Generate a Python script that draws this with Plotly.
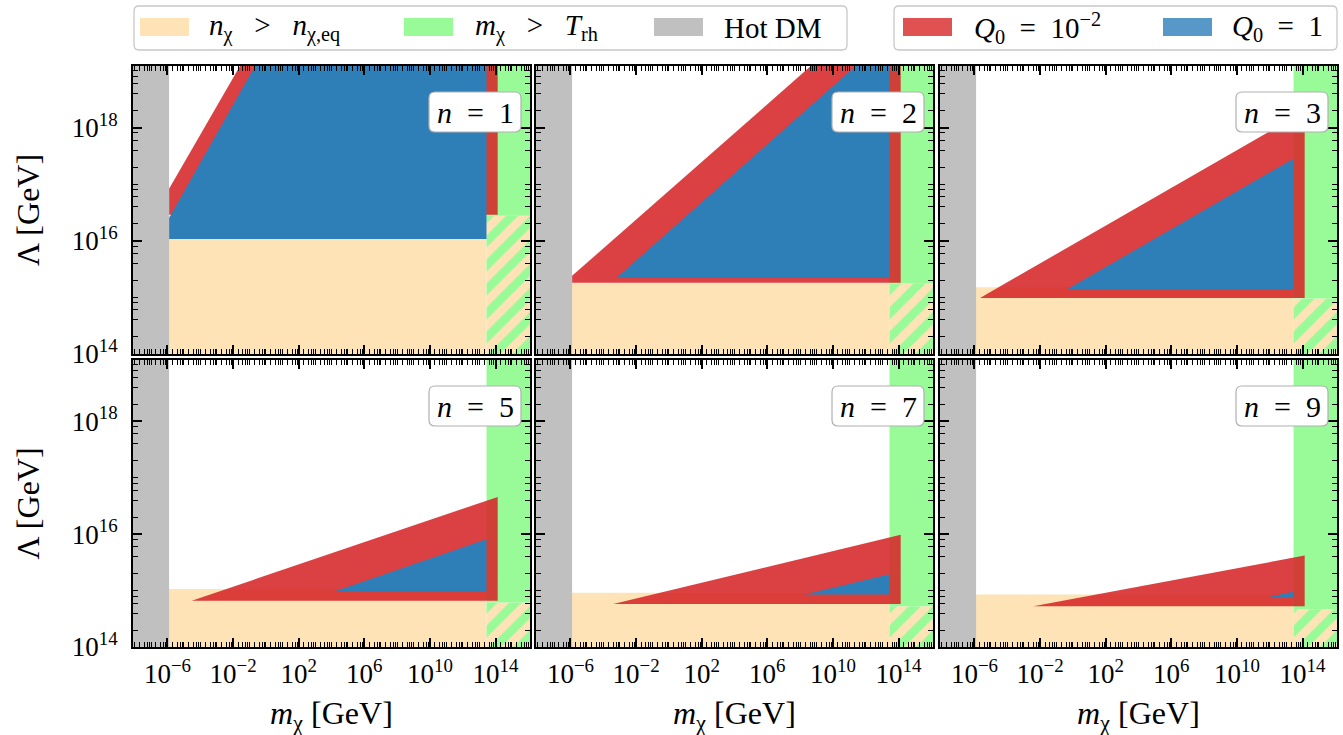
import numpy as np
import plotly.graph_objects as go

W, H = 1343, 735
FONT = "Liberation Serif, DejaVu Serif, serif"

# ---------------- data (log10 of GeV) ----------------
n_values = [1, 2, 3, 5, 7, 9]
hot_dm_log = -5.9          # hot DM bound on m_chi
trh_log = 13.45            # m_chi > T_rh boundary
orange_top_log = [16.44, 15.26, 15.18, 15.03, 14.96, 14.93]
hatch_top_log = [16.44, 15.25, 14.98, 14.79, 14.72, 14.67]

red_logm = [[-5.9, -5.9, -1.58, 14.13, 14.13],
            [-5.9, -5.9, 8.65, 14.13, 14.13],
            [-5.66, 14.13, 14.13],
            [-4.52, 14.13, 14.13],
            [-3.39, 14.13, 14.13],
            [-2.41, 14.13, 14.13]]
red_logL = [[16.46, 16.92, 19.086, 19.086, 16.46],
            [15.26, 15.38, 19.086, 19.086, 15.26],
            [14.99, 18.29, 14.99],
            [14.82, 16.66, 14.82],
            [14.76, 15.99, 14.76],
            [14.72, 15.62, 14.72]]
blue_logm = [[-5.9, -5.9, -0.66, 13.45, 13.45],
             [-3.17, 11.39, 13.45, 13.45],
             [-0.37, 13.45, 13.45],
             [4.22, 13.45, 13.45],
             [8.29, 13.45, 13.45],
             [11.88, 13.45, 13.45]]
blue_logL = [[16.03, 16.40, 19.086, 19.086, 16.03],
             [15.35, 19.086, 19.086, 15.35],
             [15.14, 17.45, 15.14],
             [14.99, 15.91, 14.99],
             [14.93, 15.29, 14.93],
             [14.88, 14.98, 14.88]]

m_tickvals = [1e-6, 1e-2, 1e2, 1e6, 1e10, 1e14]
m_ticktext = ["10<sup>−6</sup>", "10<sup>−2</sup>", "10<sup>2</sup>",
              "10<sup>6</sup>", "10<sup>10</sup>", "10<sup>14</sup>"]
L_tickvals = [1e14, 1e16, 1e18]
L_ticktext = ["10<sup>14</sup>", "10<sup>16</sup>", "10<sup>18</sup>"]

X_RANGE = [-8.1, 16.1]
Y_RANGE = [14.0, 19.086]
M_LO, M_HI = 1e-10, 1e18
L_LO, L_HI = 1e13, 1e20

C_ORANGE = "#fde3b5"
C_GREEN = "#98fb98"
C_GRAY = "#c0c0c0"
C_RED = "rgba(214,39,40,0.88)"
C_BLUE = "#2e7eb8"

col_px = [(133, 530), (536, 933), (940, 1337)]
row_px = [(66, 354), (360, 647)]

minor_x = [m * 10.0 ** k for k in range(-9, 17) for m in (1, 2, 4, 6, 8)
           if not (m == 1 and k in (-6, -2, 2, 6, 10, 14))]
minor_y = [m * 10.0 ** k for k in range(14, 20) for m in (1, 2, 4, 6, 8)
           if not (m == 1 and k in (14, 16, 18))]

SP = "&nbsp;"


def px2x(p):
    return p / W


def px2y(p):
    return 1 - p / H


def rrect(x0, y0, x1, y1, r):
    X = lambda p: f"{px2x(p):.5f}"
    Y = lambda p: f"{px2y(p):.5f}"
    return (f"M{X(x0 + r)},{Y(y0)} L{X(x1 - r)},{Y(y0)} Q{X(x1)},{Y(y0)} {X(x1)},{Y(y0 + r)} "
            f"L{X(x1)},{Y(y1 - r)} Q{X(x1)},{Y(y1)} {X(x1 - r)},{Y(y1)} "
            f"L{X(x0 + r)},{Y(y1)} Q{X(x0)},{Y(y1)} {X(x0)},{Y(y1 - r)} "
            f"L{X(x0)},{Y(y0 + r)} Q{X(x0)},{Y(y0)} {X(x0 + r)},{Y(y0)} Z")


fig = go.Figure()
layout = dict(width=W, height=H, margin=dict(l=0, r=0, t=0, b=0),
              template="none", paper_bgcolor="white", plot_bgcolor="white",
              showlegend=False)
shapes = []
annotations = []

tick_font = dict(family=FONT, size=27, color="black")


def poly(xa, ya, xs, ys, **kw):
    fig.add_trace(go.Scatter(x=xs, y=ys, xaxis=xa, yaxis=ya, fill="toself", mode="lines",
                             line=dict(width=0), hoverinfo="skip", **kw))


for i, n in enumerate(n_values):
    r, c = divmod(i, 3)
    k = i + 1
    xa = "x" if k == 1 else f"x{k}"
    ya = "y" if k == 1 else f"y{k}"
    hot = 10 ** hot_dm_log
    trh = 10 ** trh_log
    ot = 10 ** orange_top_log[i]
    ht = 10 ** hatch_top_log[i]

    # n_chi > n_chi,eq
    poly(xa, ya, [M_LO, trh, trh, M_LO], [L_LO, L_LO, ot, ot], fillcolor=C_ORANGE)
    # hatched region
    poly(xa, ya, [trh, M_HI, M_HI, trh], [L_LO, L_LO, ht, ht], fillcolor=C_ORANGE,
         fillpattern=dict(shape="/", fgcolor=C_GREEN, bgcolor=C_ORANGE, size=17, solidity=0.5))
    # m_chi > T_rh
    poly(xa, ya, [trh, M_HI, M_HI, trh], [ht, ht, L_HI, L_HI], fillcolor=C_GREEN)
    # Q0 = 1e-2
    poly(xa, ya, [10 ** v for v in red_logm[i]], [10 ** v for v in red_logL[i]], fillcolor=C_RED)
    # Q0 = 1
    poly(xa, ya, [10 ** v for v in blue_logm[i]], [10 ** v for v in blue_logL[i]], fillcolor=C_BLUE)
    # hot DM
    poly(xa, ya, [M_LO, hot, hot, M_LO], [L_LO, L_LO, L_HI, L_HI], fillcolor=C_GRAY)

    cx0, cx1 = col_px[c]
    ry0, ry1 = row_px[r]
    xkey = "xaxis" if k == 1 else f"xaxis{k}"
    ykey = "yaxis" if k == 1 else f"yaxis{k}"
    layout[xkey] = dict(type="log", range=X_RANGE, domain=[px2x(cx0), px2x(cx1)], anchor=ya,
                        showline=True, linecolor="black", linewidth=2, mirror="allticks",
                        ticks="inside", ticklen=9, tickwidth=1.5, tickcolor="black",
                        tickmode="array", tickvals=m_tickvals, ticktext=m_ticktext,
                        showticklabels=(r == 1), tickfont=tick_font, ticklabelstandoff=2,
                        minor=dict(ticks="inside", ticklen=5, tickwidth=1, tickcolor="black",
                                   tickmode="array", tickvals=minor_x, showgrid=False),
                        showgrid=False, zeroline=False, automargin=False, fixedrange=True)
    layout[ykey] = dict(type="log", range=Y_RANGE, domain=[px2y(ry1), px2y(ry0)], anchor=xa,
                        showline=True, linecolor="black", linewidth=2, mirror="allticks",
                        ticks="inside", ticklen=9, tickwidth=1.5, tickcolor="black",
                        tickmode="array", tickvals=L_tickvals, ticktext=L_ticktext,
                        showticklabels=(c == 0), tickfont=tick_font, ticklabelstandoff=8,
                        minor=dict(ticks="inside", ticklen=5, tickwidth=1, tickcolor="black",
                                   tickmode="array", tickvals=minor_y, showgrid=False),
                        showgrid=False, zeroline=False, automargin=False, fixedrange=True)

    # n label box
    bx1 = cx1 - 9
    bx0 = bx1 - 92
    by0 = ry0 + 26
    by1 = by0 + 40
    shapes.append(dict(type="path", path=rrect(bx0, by0, bx1, by1, 6), xref="paper", yref="paper",
                       fillcolor="white", line=dict(color="#b0b0b0", width=1.2), layer="above"))
    annotations.append(dict(text=f"<i>n</i>{SP} = {SP}{n}", x=px2x((bx0 + bx1) / 2),
                            y=px2y((by0 + by1) / 2),
                            xref="paper", yref="paper", showarrow=False, xanchor="center",
                            yanchor="middle", font=dict(family=FONT, size=30, color="black")))

# axis titles
for ry0, ry1 in row_px:
    annotations.append(dict(text="Λ [GeV]", x=px2x(28), y=px2y((ry0 + ry1) / 2), xref="paper",
                            yref="paper", showarrow=False, textangle=-90, xanchor="center",
                            yanchor="middle", font=dict(family=FONT, size=32, color="black")))
for cx0, cx1 in col_px:
    annotations.append(dict(text="<i>m</i><sub>χ</sub> [GeV]", x=px2x((cx0 + cx1) / 2), y=px2y(715),
                            xref="paper", yref="paper", showarrow=False, xanchor="center",
                            yanchor="middle", font=dict(family=FONT, size=32, color="black")))

# legends (drawn manually)
legend_font = dict(family=FONT, size=29, color="black")
shapes.append(dict(type="path", path=rrect(134, 6, 847, 50, 5), xref="paper", yref="paper",
                   fillcolor="white", line=dict(color="#c8c8c8", width=1.3), layer="above"))
shapes.append(dict(type="path", path=rrect(894, 6, 1337, 50, 5), xref="paper", yref="paper",
                   fillcolor="white", line=dict(color="#c8c8c8", width=1.3), layer="above"))
legend_items = [
    (140, C_ORANGE, f"<i>n</i><sub>χ</sub>{SP*2} > {SP*2}<i>n</i><sub>χ,eq</sub>", 207),
    (404, C_GREEN, f"<i>m</i><sub>χ</sub>{SP*2} > {SP*2}<i>T</i><sub>rh</sub>", 473),
    (654, C_GRAY, "Hot DM", 722),
    (903, "#e05252", f"<i>Q</i><sub>0</sub>{SP} = {SP}10<sup>−2</sup>", 972),
    (1163, "#5898c8", f"<i>Q</i><sub>0</sub>{SP} = {SP}1", 1230),
]
for px0, col, txt, tx in legend_items:
    shapes.append(dict(type="rect", x0=px2x(px0), x1=px2x(px0 + 49), y0=px2y(36), y1=px2y(18),
                       xref="paper", yref="paper", fillcolor=col, line=dict(width=0), layer="above"))
    annotations.append(dict(text=txt, x=px2x(tx), y=px2y(28), xref="paper", yref="paper",
                            showarrow=False, xanchor="left", yanchor="middle", font=legend_font))

layout["shapes"] = shapes
layout["annotations"] = annotations
fig.update_layout(**layout)
fig.write_html("out.html", config={"displayModeBar": False},
               post_script="document.body.style.margin='0px';document.body.style.overflow='hidden';")
